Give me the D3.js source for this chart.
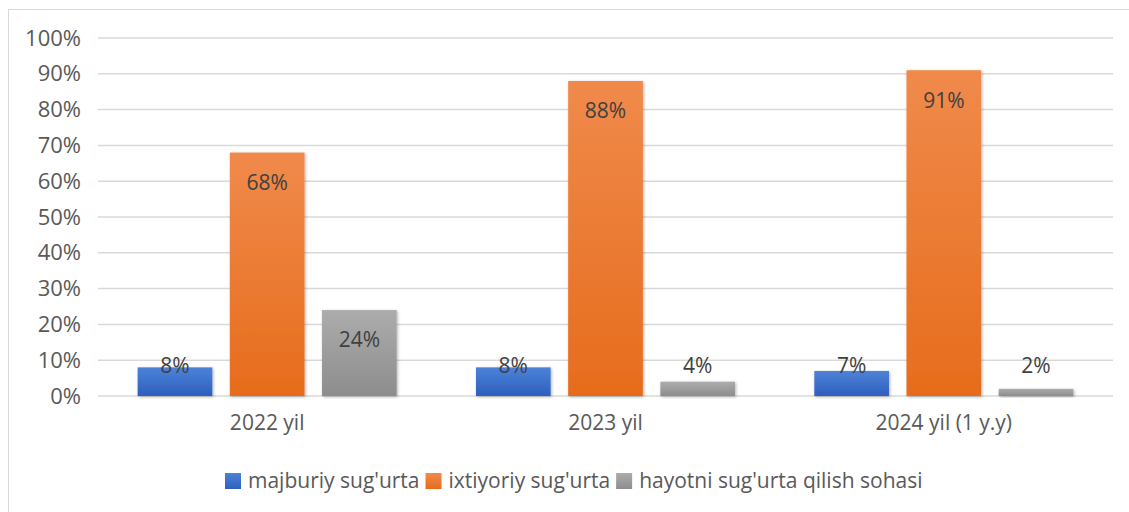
<!DOCTYPE html>
<html>
<head>
<meta charset="utf-8">
<script src="https://d3js.org/d3.v7.min.js"></script>
<style>
  body { margin: 0; background: #fff; font-family: "Open Sans", sans-serif; }
</style>
</head>
<body>
<script>
// chart data
var years = ["2022 yil", "2023 yil", "2024 yil (1 y.y)"];
var seriesNames = ["majburiy sug'urta", "ixtiyoriy sug'urta", "hayotni sug'urta qilish sohasi"];
var majburiy = [8, 8, 7];
var ixtiyoriy = [68, 88, 91];
var hayot = [24, 4, 2];
var yTicks = [0, 10, 20, 30, 40, 50, 60, 70, 80, 90, 100];

var width = 1129, height = 512;
var colors = [["#4d82d8", "#2e5fbe"], ["#f08a4b", "#e66c1c"], ["#acacac", "#8d8d8d"]];

var svg = d3.select("body").append("svg")
    .attr("width", width)
    .attr("height", height);

// chart border
svg.append("rect")
    .attr("x", 8.5).attr("y", 9.5)
    .attr("width", 1140).attr("height", 520)
    .attr("fill", "#fff")
    .attr("stroke", "#d9d9d9");

var defs = svg.append("defs");
colors.forEach(function(c, i) {
  var gr = defs.append("linearGradient")
      .attr("id", "grad" + i)
      .attr("x1", 0).attr("y1", 0).attr("x2", 0).attr("y2", 1);
  gr.append("stop").attr("offset", "0%").attr("stop-color", c[0]);
  gr.append("stop").attr("offset", "100%").attr("stop-color", c[1]);
});
var filt = defs.append("filter").attr("id", "shadow")
    .attr("x", "-20%").attr("y", "-20%").attr("width", "140%").attr("height", "140%");
filt.append("feDropShadow")
    .attr("dx", 1).attr("dy", 1).attr("stdDeviation", 1.5)
    .attr("flood-color", "#000").attr("flood-opacity", 0.3);

var x = d3.scaleBand().domain(years).range([98, 1113]).paddingInner(0).paddingOuter(0);
var xs = d3.scaleBand().domain([0, 1, 2]).range([0, x.bandwidth()]).paddingInner(0.19).paddingOuter(0.43);
var y = d3.scaleLinear().domain([0, 100]).range([396, 38]);

// gridlines
svg.append("g").selectAll("line")
    .data(yTicks)
    .join("line")
    .attr("x1", 98).attr("x2", 1113)
    .attr("y1", d => y(d)).attr("y2", d => y(d))
    .attr("stroke", "#d9d9d9")
    .attr("stroke-width", 1.5);

// y axis labels
var yAxis = svg.append("g")
    .attr("transform", "translate(89,0)")
    .call(d3.axisLeft(y).tickValues(yTicks).tickFormat(d => d + "%").tickSize(0).tickPadding(8));
yAxis.select(".domain").remove();
yAxis.selectAll("text")
    .attr("font-family", "Open Sans, sans-serif")
    .attr("font-size", 22)
    .attr("fill", "#595959");

// x axis labels
var xAxis = svg.append("g")
    .attr("transform", "translate(0,396)")
    .call(d3.axisBottom(x).tickSize(0).tickPadding(19));
xAxis.select(".domain").remove();
xAxis.selectAll("text")
    .attr("font-family", "Open Sans, sans-serif")
    .attr("font-size", 21)
    .attr("fill", "#595959");

var series = [majburiy, ixtiyoriy, hayot];
var groups = svg.append("g").selectAll("g")
    .data(years)
    .join("g")
    .attr("transform", d => "translate(" + x(d) + ",0)");

groups.each(function(yr, yi) {
  var g = d3.select(this);
  series.forEach(function(s, si) {
    var v = s[yi];
    g.append("rect")
      .attr("x", xs(si))
      .attr("y", y(v))
      .attr("width", xs.bandwidth())
      .attr("height", y(0) - y(v))
      .attr("fill", "url(#grad" + si + ")")
      .attr("filter", "url(#shadow)");
    g.append("text")
      .attr("x", xs(si) + xs.bandwidth() / 2)
      .attr("y", Math.min(y(v) + 30, y(0) - 30))
      .attr("dy", "0.35em")
      .attr("text-anchor", "middle")
      .attr("font-size", 21)
      .attr("fill", "#404040")
      .text(v + "%");
  });
});

// legend, laid out one item after another
var legend = svg.append("g").attr("transform", "translate(225,481)");
var lx = 0;
seriesNames.forEach(function(name, i) {
  var item = legend.append("g").attr("transform", "translate(" + lx + ",0)");
  item.append("rect")
    .attr("x", 0).attr("y", -8)
    .attr("width", 16).attr("height", 16)
    .attr("fill", "url(#grad" + i + ")");
  var t = item.append("text")
    .attr("x", 23).attr("dy", "0.35em")
    .attr("font-size", 21)
    .attr("fill", "#595959")
    .text(name);
  lx += 23 + t.node().getComputedTextLength() + 6;
});
</script>
</body>
</html>
